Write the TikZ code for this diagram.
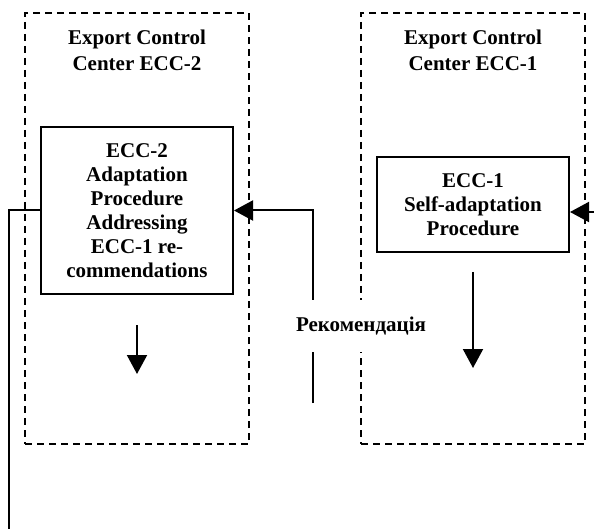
\documentclass[tikz,border=0pt]{standalone}
\usepackage{fontspec}
\setmainfont{Liberation Serif}
\usetikzlibrary{arrows.meta}
\tikzset{
  lw/.style={line width=2pt},
  groupbox/.style={draw, line width=2pt, dash pattern=on 7pt off 5pt, minimum width=224pt, minimum height=431pt, inner sep=0pt},
  procbox/.style={draw, line width=2pt, minimum width=192pt, inner sep=0pt, align=center, font=\fontsize{21}{24}\selectfont\bfseries},
  title/.style={align=center, font=\fontsize{21}{26}\selectfont\bfseries},
  lbl/.style={fill=white, inner xsep=1pt, minimum height=52pt, font=\fontsize{21}{24}\selectfont\bfseries},
  arr/.style={line width=2pt, -{Triangle[length=19pt,width=20pt]}},
}
\begin{document}
\begin{tikzpicture}[x=1pt,y=-1pt]
\useasboundingbox (0,0) rectangle (594,529);
% group boxes
\node[groupbox] (g2) at (137,228.5) {};
\node[groupbox] (g1) at (473,228.5) {};
\node[title] (t2) at (137,50) {Export Control\\Center ECC-2};
\node[title] (t1) at (473,50) {Export Control\\Center ECC-1};
% procedure boxes
\node[procbox, minimum height=167pt] (p2) at (137,210.5) {ECC-2\\Adaptation\\Procedure\\Addressing\\ECC-1 re-\\commendations};
\node[procbox, minimum height=95pt] (p1) at (473,204.5) {ECC-1\\Self-adaptation\\Procedure};
% recommendation connector
\coordinate (rb) at (313,403);
\draw[arr] (rb) -- (313,210.5) -- (p2.east);
\node[lbl] (rec) at (361,326) {Рекомендація};
% right incoming arrow
\coordinate (rin) at (596,212);
\draw[arr] (rin) -- (rin -| p1.east);
% left outgoing line
\coordinate (lout) at (9,531);
\draw[lw] (p2.west) -- (9,210.5) -- (lout);
% internal down arrows
\coordinate (d2a) at (137,325);
\coordinate (d2b) at (137,374);
\draw[arr] (d2a) -- (d2b);
\coordinate (d1a) at (473,272);
\coordinate (d1b) at (473,368);
\draw[arr] (d1a) -- (d1b);
\end{tikzpicture}
\end{document}
